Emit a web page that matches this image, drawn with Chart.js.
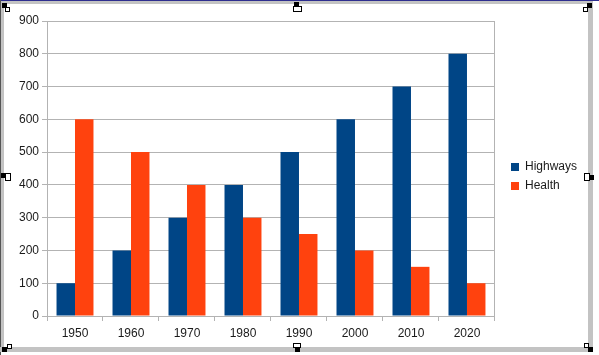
<!DOCTYPE html>
<html>
<head>
<meta charset="utf-8">
<script src="https://cdn.jsdelivr.net/npm/chart.js@4.4.1/dist/chart.umd.min.js"></script>
<style>
  html, body { margin: 0; padding: 0; background: #fff; }
  #wrap { position: relative; width: 599px; height: 355px; overflow: hidden; }
  #c { position: absolute; left: 0; top: 0; }
  .f { position: absolute; }
  .h { position: absolute; width: 5px; height: 5px; background: #000; }
  .hb { position: absolute; width: 5px; height: 5px; border: 1px solid #000; background: #fff; }
</style>
</head>
<body>
<div id="wrap">
  <canvas id="c" width="599" height="355"></canvas>
  <!-- frame of the embedded object -->
  <div class="f" style="left:0;top:0;width:599px;height:1px;background:#2e2e8f;"></div>
  <div class="f" style="left:0;top:1px;width:593px;height:3px;background:#c3c3c3;"></div>
  <div class="f" style="left:0;top:0;width:1px;height:355px;background:#555;"></div>
  <div class="f" style="left:1px;top:1px;width:3px;height:351px;background:#c3c3c3;"></div>
  <div class="f" style="left:588px;top:1px;width:5px;height:351px;background:#c3c3c3;"></div>
  <div class="f" style="left:0;top:347px;width:593px;height:5px;background:#c3c3c3;"></div>
  <!-- handles -->
  <div class="hb" style="left:5px;top:7px;width:3px;height:3px;"></div>
  <div class="h" style="left:2px;top:3px;"></div>
  <div class="hb" style="left:293px;top:6px;width:7px;height:4px;"></div>
  <div class="h" style="left:294px;top:2px;"></div>
  <div class="hb" style="left:583px;top:7px;width:3px;height:3px;"></div>
  <div class="h" style="left:587px;top:3px;"></div>
  <div class="hb" style="left:5px;top:173px;width:4px;height:6px;"></div>
  <div class="h" style="left:1px;top:173px;"></div>
  <div class="hb" style="left:584px;top:173px;width:4px;height:6px;"></div>
  <div class="h" style="left:589px;top:175px;"></div>
  <div class="hb" style="left:7px;top:344px;width:3px;height:3px;"></div>
  <div class="h" style="left:2px;top:347px;"></div>
  <div class="hb" style="left:293px;top:343px;width:6px;height:3px;"></div>
  <div class="h" style="left:295px;top:347px;"></div>
  <div class="hb" style="left:584px;top:343px;width:3px;height:3px;"></div>
  <div class="h" style="left:588px;top:347px;"></div>
</div>
<script>
const categories = ['1950', '1960', '1970', '1980', '1990', '2000', '2010', '2020'];
const highways = [100, 200, 300, 400, 500, 600, 700, 800];
const health = [600, 500, 400, 300, 250, 200, 150, 100];
const seriesNames = ['Highways', 'Health'];

const GRID = '#b3b3b3';
const TEXT = '#1a1a1a';
const FONT = { family: '"Liberation Sans", Arial, sans-serif', size: 12 };

new Chart(document.getElementById('c'), {
  type: 'bar',
  data: {
    labels: categories,
    datasets: [
      { label: seriesNames[0], data: highways, backgroundColor: '#004586', borderWidth: 0 },
      { label: seriesNames[1], data: health, backgroundColor: '#ff420e', borderWidth: 0 }
    ]
  },
  options: {
    responsive: false,
    animation: false,
    devicePixelRatio: 1,
    datasets: { bar: { barPercentage: 1, categoryPercentage: 0.66 } },
    layout: { padding: { top: 13, right: 12, bottom: 15, left: 0 } },
    plugins: {
      tooltip: { enabled: false },
      legend: {
        position: 'right',
        align: 'center',
        labels: {
          boxWidth: 8, boxHeight: 8, padding: 7,
          color: TEXT, font: FONT
        }
      }
    },
    scales: {
      x: {
        afterFit(s) { s.height = 24; },
        grid: {
          offset: true,
          drawOnChartArea: false,
          tickLength: 5,
          tickColor: GRID,
          color: GRID
        },
        border: { color: GRID },
        ticks: { color: TEXT, font: { family: FONT.family, size: 12, lineHeight: 1 }, padding: 7, maxRotation: 0 }
      },
      xTop: {
        position: 'top',
        afterFit(s) { s.height = 8; },
        grid: { display: false },
        border: { display: false },
        ticks: { display: false }
      },
      y: {
        min: 0, max: 900,
        afterFit(s) { s.width = 47; },
        grid: { color: GRID, tickLength: 5 },
        border: { color: GRID },
        ticks: { stepSize: 100, color: TEXT, font: FONT, padding: 3 }
      },
      yRight: {
        position: 'right',
        min: 0, max: 900,
        afterFit(s) { s.width = 9; },
        grid: { drawOnChartArea: false, drawTicks: false },
        border: { color: GRID },
        ticks: { display: false }
      }
    }
  }
});
</script>
</body>
</html>
